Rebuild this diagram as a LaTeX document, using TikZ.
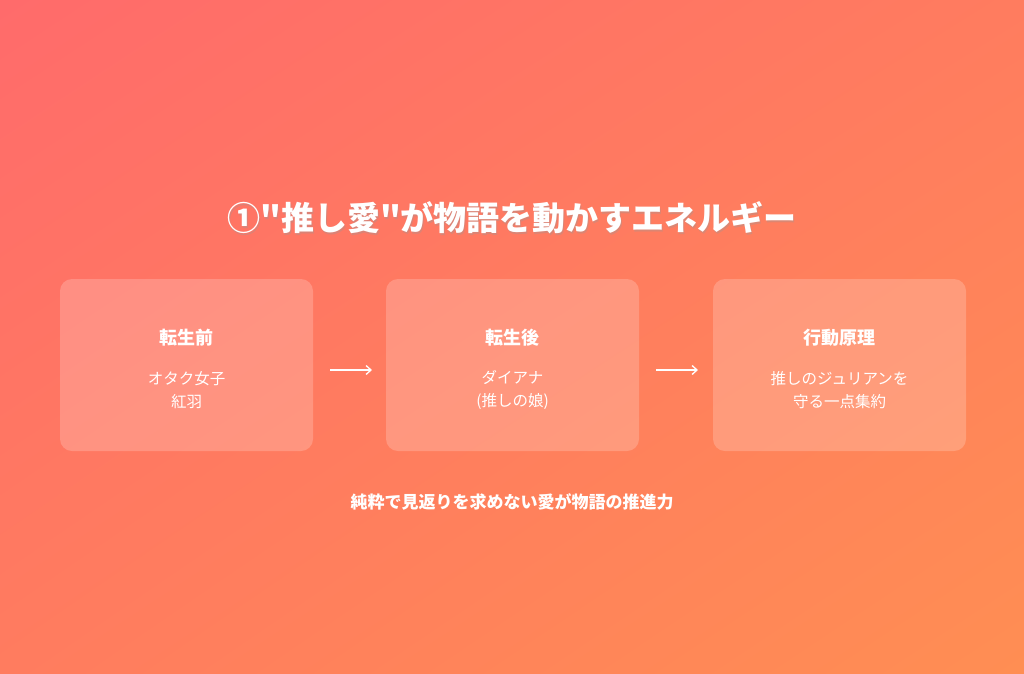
\documentclass[tikz,border=0pt]{standalone}
\usepackage{fontspec}
\setmainfont{Noto Sans CJK JP}[Ligatures=TeXOff]
\usetikzlibrary{arrows.meta,shadings}
\definecolor{cA}{HTML}{FF6B6B}
\definecolor{cB}{HTML}{FF8E53}
\definecolor{cM}{HTML}{FF7C5F}
\tikzset{
  card/.style={fill=white,fill opacity=0.2,rounded corners=12pt,draw=none,minimum width=253pt,minimum height=172pt},
  head/.style={text=white,font=\bfseries\fontsize{18}{21}\selectfont},
  body/.style={text=white,font=\fontsize{15.5}{23}\selectfont,align=center},
  arr/.style={draw=white,line width=1.3pt,-{Straight Barb[length=5pt,width=9pt]}}
}
\begin{document}
\begin{tikzpicture}[x=1pt,y=-1pt]
\useasboundingbox (0,0) rectangle (1024,673);
\shade[upper left=cA,lower right=cB,upper right=cM,lower left=cM] (0,0) rectangle (1024,673);
\node[text=black!40,opacity=0.35,font=\bfseries\fontsize{33}{38}\selectfont] at (513,220) {①"推し愛"が物語を動かすエネルギー};
\node (title) [text=white,font=\bfseries\fontsize{33}{38}\selectfont] at (512,218) {①"推し愛"が物語を動かすエネルギー};
\node (c1) [card] at (186.5,365) {};
\node (c2) [card] at (512.5,365) {};
\node (c3) [card] at (839.5,365) {};
\node (h1) [head] at (186.5,338) {転生前};
\node (h2) [head] at (512.5,338) {転生後};
\node (h3) [head] at (839.5,338) {行動原理};
\node (b1) [body] at (186.5,390) {オタク女子\\紅羽};
\node (b2) [body] at (512.5,390) {ダイアナ\\(推しの娘)};
\node (b3) [body] at (839.5,390) {推しのジュリアンを\\守る一点集約};
\coordinate (a1s) at (330,370); \coordinate (a1e) at (372,370);
\coordinate (a2s) at (656,370); \coordinate (a2e) at (698,370);
\draw[arr] (a1s) -- (a1e);
\draw[arr] (a2s) -- (a2e);
\node (foot) [text=white,font=\bfseries\fontsize{17}{20}\selectfont] at (512,502) {純粋で見返りを求めない愛が物語の推進力};
\end{tikzpicture}
\end{document}
